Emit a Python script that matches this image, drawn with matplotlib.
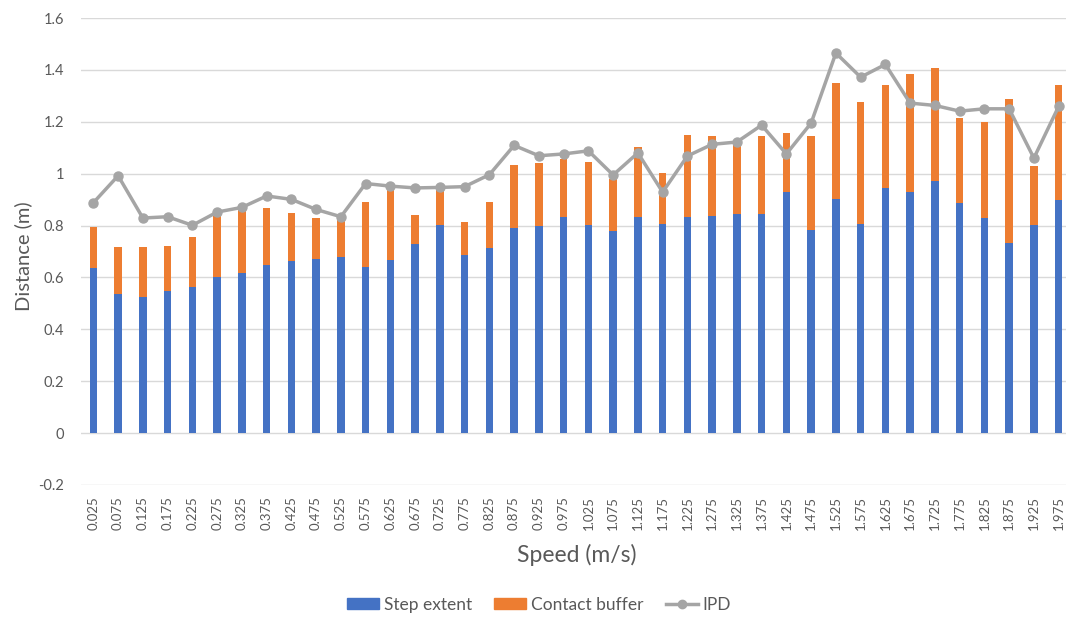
import matplotlib
matplotlib.use("Agg")
import matplotlib.pyplot as plt
from matplotlib.patches import Patch
from matplotlib.lines import Line2D

# Walking speed categories (m/s)
speeds = ["0.025", "0.075", "0.125", "0.175", "0.225", "0.275", "0.325", "0.375",
          "0.425", "0.475", "0.525", "0.575", "0.625", "0.675", "0.725", "0.775",
          "0.825", "0.875", "0.925", "0.975", "1.025", "1.075", "1.125", "1.175",
          "1.225", "1.275", "1.325", "1.375", "1.425", "1.475", "1.525", "1.575",
          "1.625", "1.675", "1.725", "1.775", "1.825", "1.875", "1.925", "1.975"]

# Step extent (m)
step_extent = [0.637, 0.536, 0.524, 0.547, 0.563, 0.600, 0.616, 0.648, 0.663, 0.672,
               0.678, 0.641, 0.666, 0.730, 0.801, 0.685, 0.712, 0.790, 0.798, 0.832,
               0.801, 0.779, 0.832, 0.806, 0.832, 0.835, 0.844, 0.844, 0.930, 0.784,
               0.902, 0.806, 0.944, 0.930, 0.971, 0.888, 0.828, 0.734, 0.804, 0.897]

# Contact buffer (m), stacked on the step extent
contact_buffer = [0.156, 0.181, 0.193, 0.176, 0.193, 0.237, 0.244, 0.221, 0.184, 0.159,
                  0.150, 0.251, 0.281, 0.110, 0.145, 0.128, 0.177, 0.242, 0.242, 0.223,
                  0.243, 0.199, 0.269, 0.198, 0.317, 0.310, 0.276, 0.302, 0.228, 0.360,
                  0.446, 0.469, 0.396, 0.455, 0.435, 0.325, 0.372, 0.552, 0.225, 0.446]

# Interpersonal distance (m)
ipd = [0.888, 0.992, 0.829, 0.834, 0.801, 0.852, 0.870, 0.914, 0.901, 0.862,
       0.834, 0.962, 0.952, 0.945, 0.947, 0.950, 0.996, 1.109, 1.069, 1.076,
       1.088, 0.995, 1.080, 0.929, 1.068, 1.113, 1.122, 1.187, 1.076, 1.195,
       1.465, 1.372, 1.421, 1.272, 1.263, 1.241, 1.250, 1.250, 1.060, 1.259]

y_ticks = [-0.2, 0, 0.2, 0.4, 0.6, 0.8, 1, 1.2, 1.4, 1.6]

BLUE = "#4472C4"
ORANGE = "#ED7D31"
GRAY = "#A5A5A5"
TEXT = "#595959"
GRID = "#D9D9D9"

plt.rcParams["font.family"] = ["Lato", "DejaVu Sans"]
plt.rcParams["axes.unicode_minus"] = False

fig = plt.figure(figsize=(10.66, 6.17), dpi=100)
ax = fig.add_axes([81 / 1066, 132 / 617, 990 / 1066, 467 / 617])

x = list(range(len(speeds)))
width = 0.31
ax.bar(x, step_extent, width=width, color=BLUE, zorder=2)
ax.bar(x, contact_buffer, width=width, bottom=step_extent, color=ORANGE, zorder=2)
ax.plot(x, ipd, color=GRAY, linewidth=2.5, marker="o", markersize=6.5,
        markerfacecolor=GRAY, markeredgecolor=GRAY, zorder=3)

ax.set_xlim(-0.5, len(speeds) - 0.5)
ax.set_ylim(-0.2, 1.6)
ax.set_yticks(y_ticks)
ax.set_yticklabels([f"{v:g}" for v in y_ticks])
ax.set_xticks(x)
ax.set_xticklabels(speeds, rotation=90)

ax.grid(axis="y", color=GRID, linewidth=1, zorder=0)
ax.grid(axis="x", visible=False)
for s in ax.spines.values():
    s.set_visible(False)
ax.tick_params(axis="both", length=0, colors=TEXT)
ax.tick_params(axis="y", pad=12, labelsize=10.5)
ax.tick_params(axis="x", pad=8, labelsize=9.5)

ax.set_ylabel("Distance (m)", fontsize=14.5, color=TEXT)
ax.yaxis.set_label_coords((23 - 81) / 990, (617 - 256 - 132) / 467)
ax.set_xlabel("Speed (m/s)", fontsize=16.5, color=TEXT)
ax.xaxis.set_label_coords((577 - 81) / 990, (617 - 555 - 132) / 467)
ax.xaxis.label.set_va("center")
ax.yaxis.label.set_va("center")

handles = [Patch(facecolor=BLUE, edgecolor=BLUE),
           Patch(facecolor=ORANGE, edgecolor=ORANGE),
           Line2D([0], [0], color=GRAY, linewidth=2.5, marker="o", markersize=6)]
fig.legend(handles, ["Step extent", "Contact buffer", "IPD"], loc="center",
           bbox_to_anchor=(539 / 1066, 12 / 617), ncol=3, frameon=False,
           fontsize=12.5, labelcolor=TEXT, handlelength=1.85, handleheight=0.6,
           columnspacing=1.3, handletextpad=0.25)

fig.savefig("out.png", dpi=100)
